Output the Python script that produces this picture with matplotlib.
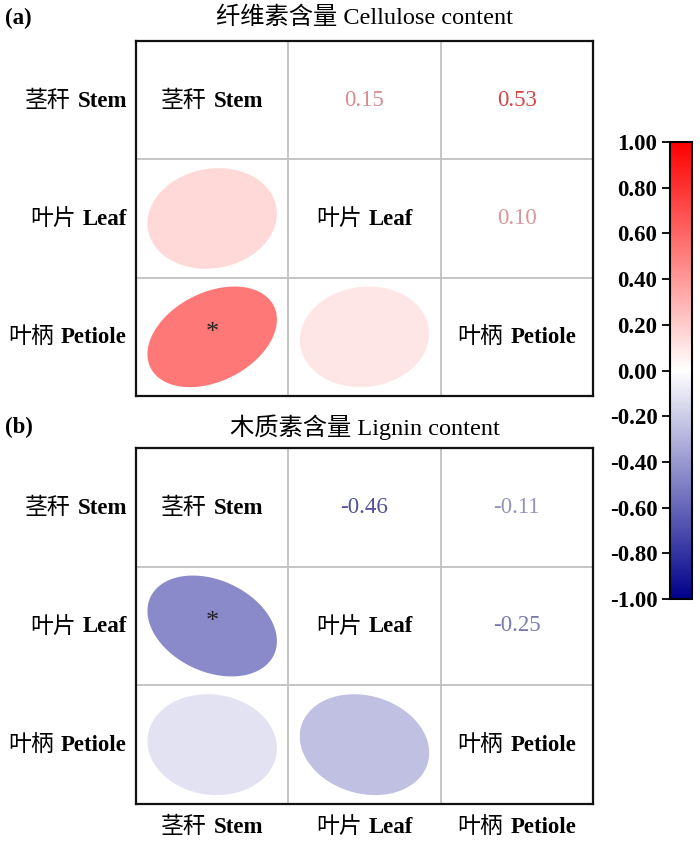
import numpy as np
import matplotlib
matplotlib.use('Agg')
import matplotlib.pyplot as plt
from matplotlib.colors import LinearSegmentedColormap, Normalize
from matplotlib.cm import ScalarMappable
from matplotlib.offsetbox import TextArea, HPacker, AnnotationBbox

plt.rcParams['font.family'] = ['Liberation Serif', 'Noto Sans CJK SC']
plt.rcParams['axes.unicode_minus'] = False

# data
labels_cn = ['茎秆', '叶片', '叶柄']
labels_en = ['Stem', 'Leaf', 'Petiole']
titles = ['纤维素含量 Cellulose content', '木质素含量 Lignin content']
tags = ['(a)', '(b)']
# correlation pairs: (stem-leaf, stem-petiole, leaf-petiole)
r_cellulose = [0.15, 0.53, 0.10]
r_lignin = [-0.46, -0.11, -0.25]
sig_cellulose = ['', '*', '']
sig_lignin = ['*', '', '']
cbar_ticks = [-1.0, -0.8, -0.6, -0.4, -0.2, 0.0, 0.2, 0.4, 0.6, 0.8, 1.0]

cmap = LinearSegmentedColormap.from_list('bwr2', ['#00008B', '#FFFFFF', '#FF0000'])
norm = Normalize(-1, 1)

fs = 16.5
cn_prop = dict(family='Noto Sans CJK SC', size=fs, color='black')
en_prop = dict(family='Liberation Serif', size=fs, weight='bold', color='black')


def label(ax, x, y, i, align, coords='data'):
    box = HPacker(children=[TextArea(labels_cn[i], textprops=cn_prop),
                            TextArea(labels_en[i], textprops=en_prop)],
                  align='baseline', pad=0, sep=5)
    ab = AnnotationBbox(box, (x, y), xycoords=coords, frameon=False,
                        box_alignment=align, pad=0, annotation_clip=False)
    ax.add_artist(ab)


def matrix(r):
    m = np.eye(3)
    m[0, 1] = m[1, 0] = r[0]
    m[0, 2] = m[2, 0] = r[1]
    m[1, 2] = m[2, 1] = r[2]
    return m


def sigm(s):
    m = [['', '', ''] for _ in range(3)]
    m[1][0] = s[0]
    m[2][0] = s[1]
    m[2][1] = s[2]
    return m


fig = plt.figure(figsize=(7, 8.48), dpi=100)
ax_a = fig.add_axes([0.1943, 0.533, 0.6528, 0.4187])
ax_b = fig.add_axes([0.1943, 0.0519, 0.6528, 0.4198])

t = np.linspace(0, 2 * np.pi, 300)
sc = 0.85
flat = 0.65   # ellipse shape factor
for ax, r, sg in [(ax_a, r_cellulose, sig_cellulose),
                  (ax_b, r_lignin, sig_lignin)]:
    m = matrix(r)
    s = sigm(sg)
    ax.set_xlim(0, 3)
    ax.set_ylim(0, 3)
    ax.set_xticks([])
    ax.set_yticks([])
    for v in [1, 2]:
        ax.axhline(v, color='#c0c0c0', lw=1.3, zorder=0)
        ax.axvline(v, color='#c0c0c0', lw=1.3, zorder=0)
    for sp in ax.spines.values():
        sp.set_linewidth(1.6)
        sp.set_color('#111111')
    for i in range(3):
        cy = 3 - i - 0.5
        for j in range(3):
            cx = j + 0.5
            if i == j:
                label(ax, cx, cy, i, (0.5, 0.5))
            elif j > i:
                v = m[i, j]
                vv = np.sign(v) * min(1, abs(v) + 0.25)
                c = np.array(cmap(norm(vv))[:3])
                c = 0.75 * c + 0.25 * np.array([0.4, 0.4, 0.45])
                ax.text(cx, cy, '%.2f' % v, ha='center', va='center',
                        fontsize=fs, color=c, family='Liberation Serif')
            else:
                a = np.arccos(m[i, j] * flat)
                ex = np.cos(t + a / 2) / 2 * sc + cx
                ey = np.cos(t - a / 2) / 2 * sc + cy
                ax.fill(ex, ey, color=cmap(norm(m[i, j])), lw=0, zorder=1)
                if s[i][j]:
                    ax.text(cx, cy + 0.03, s[i][j], ha='center', va='center',
                            fontsize=19, color='#222222', zorder=3)
        # row labels
        label(ax, -0.06, cy, i, (1.0, 0.5))

fig.text(0.521, 0.9788, titles[0], ha='center', va='center', fontsize=17.5)
fig.text(0.521, 0.4965, titles[1], ha='center', va='center', fontsize=17.5)
fig.text(0.007, 0.9788, tags[0], fontsize=fs, weight='bold', va='center')
fig.text(0.007, 0.4965, tags[1], fontsize=fs, weight='bold', va='center')

for j in range(3):
    label(ax_b, j + 0.5, -0.19, j, (0.5, 0.5))

cax = fig.add_axes([0.957, 0.2936, 0.0316, 0.5389])
cb = fig.colorbar(ScalarMappable(norm=norm, cmap=cmap), cax=cax, ticks=cbar_ticks)
cb.ax.yaxis.set_ticks_position('left')
cb.ax.yaxis.set_label_position('left')
cb.ax.set_yticklabels(['%.2f' % v for v in cbar_ticks])
cb.ax.tick_params(length=6, width=1.3, labelsize=fs, pad=3)
for tl in cb.ax.get_yticklabels():
    tl.set_fontweight('bold')
cb.outline.set_linewidth(1.5)

fig.savefig('out.png', dpi=100)
